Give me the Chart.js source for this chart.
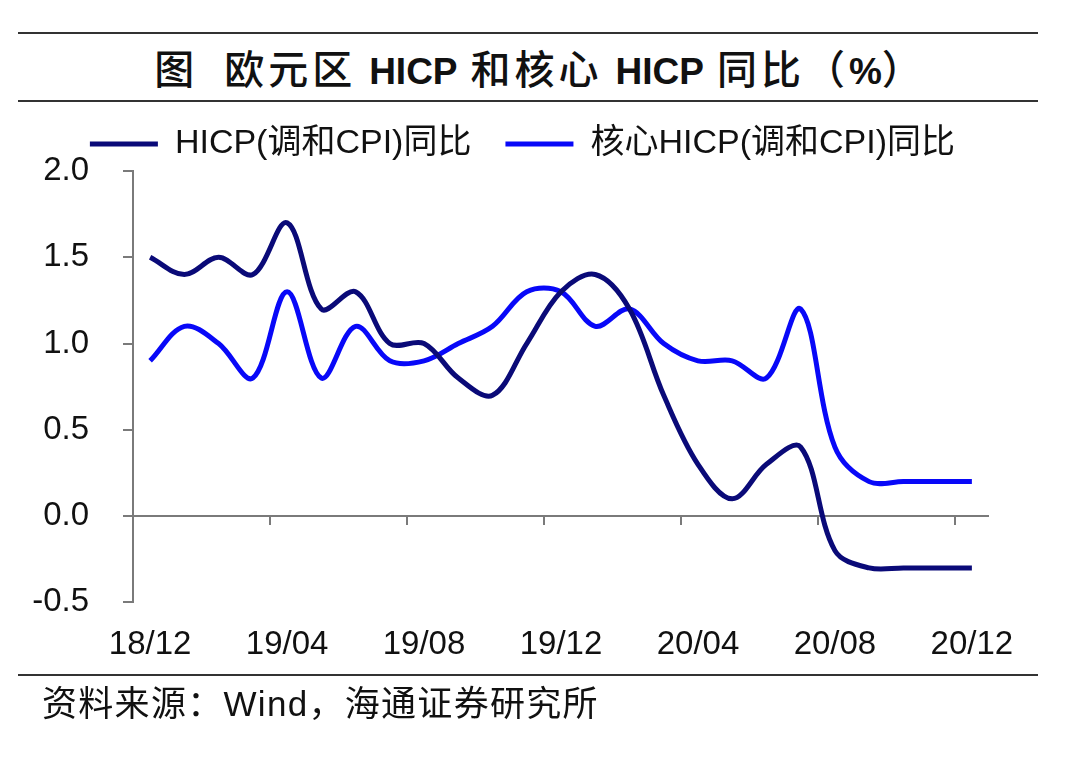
<!DOCTYPE html>
<html lang="zh">

<head>
  <meta charset="UTF-8">
  <script src="https://cdn.jsdelivr.net/npm/chart.js@4.4.0/dist/chart.umd.min.js"></script>
  <style>
    body {
      margin: 0;
      width: 1080px;
      height: 770px;
      background: #fff;
      position: relative;
      font-family: "Liberation Sans", "Noto Sans CJK SC", sans-serif;
      color: #111;
    }

    .rule {
      position: absolute;
      left: 18px;
      width: 1020px;
      border-top: 2px solid #333;
    }

    #title {
      position: absolute;
      top: 34px;
      left: 30px;
      width: 1020px;
      height: 66px;
      line-height: 66px;
      text-align: center;
      white-space: pre;
    }

    #title b {
      font-family: "Liberation Sans", sans-serif;
      font-size: 37px;
    }

    #title span {
      font-family: "Noto Sans CJK SC", sans-serif;
      font-size: 40px;
      font-weight: 500;
      letter-spacing: 4px;
    }

    #source {
      position: absolute;
      top: 684px;
      left: 42px;
      font-size: 35px;
      line-height: 40px;
      letter-spacing: 1.3px;
    }

    #wrap {
      position: absolute;
      top: 80px;
      left: 0;
    }
  </style>
  <title>欧元区HICP</title>
</head>

<body>
  <div class="rule" style="top:32px"></div>
  <div id="title"><span>图  欧元区 </span><b>HICP</b><span> 和核心 </span><b>HICP</b><span> 同比（</span><b>%</b><span>）</span></div>
  <div class="rule" style="top:100px"></div>
  <div id="wrap"><canvas id="chart" width="1080" height="616"></canvas></div>
  <div class="rule" style="top:674px"></div>
  <div id="source">资料来源：Wind，海通证券研究所</div>

  <script>
    // months 18/12 .. 20/12
    const months = ['18/12', '19/01', '19/02', '19/03', '19/04', '19/05', '19/06', '19/07', '19/08',
      '19/09', '19/10', '19/11', '19/12', '20/01', '20/02', '20/03', '20/04', '20/05', '20/06',
      '20/07', '20/08', '20/09', '20/10', '20/11', '20/12'];
    const shownLabels = ['18/12', '19/04', '19/08', '19/12', '20/04', '20/08', '20/12'];

    const hicp = [1.5, 1.4, 1.5, 1.4, 1.7, 1.2, 1.3, 1.0, 1.0, 0.8, 0.7, 1.0, 1.3,
      1.4, 1.2, 0.7, 0.3, 0.1, 0.3, 0.4, -0.2, -0.3, -0.3, -0.3, -0.3];
    const coreHicp = [0.9, 1.1, 1.0, 0.8, 1.3, 0.8, 1.1, 0.9, 0.9, 1.0, 1.1, 1.3, 1.3,
      1.1, 1.2, 1.0, 0.9, 0.9, 0.8, 1.2, 0.4, 0.2, 0.2, 0.2, 0.2];

    const seriesNames = ['HICP(调和CPI)同比', '核心HICP(调和CPI)同比'];
    const axisGray = '#7a7a7a';
    const font = '"Liberation Sans", "Noto Sans CJK SC", sans-serif';

    // tick marks on the zero line, between categories, at the labelled months
    const zeroTicks = {
      id: 'zeroTicks',
      beforeDatasetsDraw(chart) {
        const xs = chart.scales.x, ys = chart.scales.y;
        const ctx = chart.ctx;
        const half = (xs.getPixelForValue(1) - xs.getPixelForValue(0)) / 2;
        const y0 = ys.getPixelForValue(0);
        ctx.save();
        ctx.strokeStyle = axisGray;
        ctx.lineWidth = 2;
        ctx.beginPath();
        for (let i = 0; i < months.length; i++) {
          if (!shownLabels.includes(months[i])) continue;
          const x = Math.round(xs.getPixelForValue(i) - half);
          ctx.moveTo(x, y0);
          ctx.lineTo(x, y0 + 9);
        }
        ctx.stroke();
        ctx.restore();
      }
    };

    const chart = new Chart(document.getElementById('chart'), {
      type: 'line',
      data: {
        labels: months,
        datasets: [{
          label: seriesNames[0],
          data: hicp,
          borderColor: '#0a0a78',
          backgroundColor: '#0a0a78',
          borderWidth: 5,
          pointRadius: 0,
          tension: 0.35
        }, {
          label: seriesNames[1],
          data: coreHicp,
          borderColor: '#0808f8',
          backgroundColor: '#0808f8',
          borderWidth: 5,
          pointRadius: 0,
          tension: 0.35
        }]
      },
      options: {
        responsive: false,
        animation: false,
        layout: { padding: { top: 13, right: 91, bottom: 8, left: 0 } },
        plugins: {
          legend: {
            align: 'end',
            labels: {
              font: { size: 34, family: font },
              color: '#111',
              usePointStyle: true,
              pointStyle: 'line',
              pointStyleWidth: 68,
              padding: 34
            }
          },
          tooltip: { enabled: false }
        },
        scales: {
          x: {
            offset: true,
            grid: { display: false, drawTicks: false },
            border: { display: false },
            ticks: {
              autoSkip: false,
              maxRotation: 0,
              padding: 23,
              color: '#111',
              font: { size: 33, family: font },
              callback: function (v, i) {
                return shownLabels.includes(months[i]) ? months[i] : '';
              }
            }
          },
          y: {
            min: -0.5,
            max: 2.0,
            afterFit: function (s) { s.width = 133; },
            grid: {
              color: function (c) { return c.tick && c.tick.value === 0 ? axisGray : 'transparent'; },
              tickColor: axisGray,
              tickLength: 10,
              lineWidth: 2
            },
            border: { color: axisGray, width: 2 },
            ticks: {
              stepSize: 0.5,
              padding: 34,
              color: '#111',
              font: { size: 33, family: font },
              callback: function (v) { return v.toFixed(1); }
            }
          }
        }
      },
      plugins: [zeroTicks]
    });
  </script>
</body>

</html>
